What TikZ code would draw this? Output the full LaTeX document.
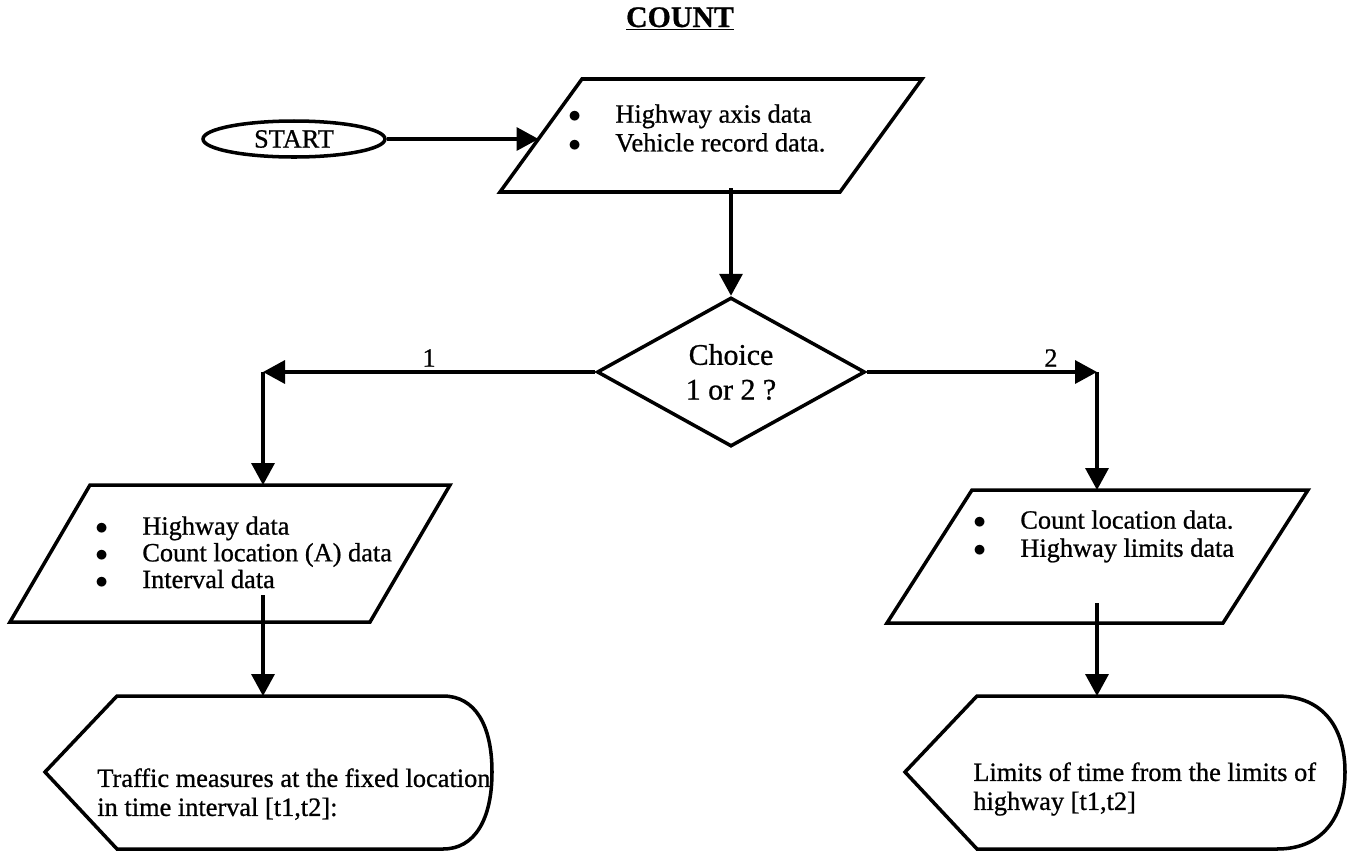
\documentclass[tikz,border=0pt]{standalone}
\usepackage{fontspec}
\setmainfont{Liberation Serif}[FakeBold=0.8]
\usetikzlibrary{arrows.meta,calc,positioning,shapes.geometric}
\newcommand{\linew}{2pt}
\newcommand{\bulletgap}{0.94cm}
\newcommand{\bitem}[1]{\makebox[\bulletgap][l]{$\bullet$}#1}
\tikzset{
  >={Triangle[length=0.44cm,width=0.46cm]},
  font=\fontsize{15}{16}\selectfont,
  outline/.style={draw,line width=\linew,line join=miter},
  term/.style={draw,shape=ellipse,line width=\linew,minimum width=3.64cm,minimum height=0.72cm,inner sep=0},
  decision/.style={draw,shape=diamond,line width=\linew,minimum width=5.36cm,minimum height=2.98cm,inner sep=0,aspect=1.8,align=center,font=\fontsize{17}{19.8}\selectfont},
  txt/.style={anchor=north west,inner sep=0,align=left},
  line/.style={draw,->,line width=\linew},
  branch/.style={above=2pt,inner sep=0},
}
\begin{document}
\begin{tikzpicture}
  \useasboundingbox (0,0) rectangle (26.98,-17.08);
  \node (title) [anchor=base,font=\fontsize{17}{19}\selectfont\bfseries] at (13.6,-0.54) {\underline{COUNT}};
  \node (start) [term] at (5.88,-2.78) {START};
  \draw [outline] (10,-3.84) -- (16.8,-3.84) -- (18.44,-1.58) -- (11.64,-1.58) -- cycle;
  \node (in0) [txt,font=\fontsize{15}{16.4}\selectfont] at (11.36,-2.08) {\bitem{Highway axis data}\\\bitem{Vehicle record data.}};
  \node (choice) [decision] at (14.62,-7.44) {Choice\\1 or 2 ?};
  \draw [outline] (0.2,-12.44) -- (7.4,-12.44) -- (9,-9.7) -- (1.8,-9.7) -- cycle;
  \node (in1) [txt,font=\fontsize{15}{15.2}\selectfont] at (1.9,-10.32) {\bitem{Highway data}\\\bitem{Count location (A) data}\\\bitem{Interval data}};
  \draw [outline] (17.74,-12.46) -- (24.46,-12.46) -- (26.16,-9.8) -- (19.44,-9.8) -- cycle;
  \node (in2) [txt] at (19.46,-10.2) {\bitem{Count location data.}\\\bitem{Highway limits data}};
  \draw [outline] (0.9,-15.44) -- (2.34,-13.92) -- (8.86,-13.92) .. controls (9.5,-13.92) and (9.84,-14.5) .. (9.84,-15.44) .. controls (9.84,-16.38) and (9.5,-16.98) .. (8.86,-16.98) -- (2.34,-16.98) -- cycle;
  \node (out1) [txt,font=\fontsize{15}{16.5}\selectfont] at (1.94,-15.36) {Traffic measures at the fixed location\\in time interval [t1,t2]:};
  \draw [outline] (18.1,-15.44) -- (19.54,-13.92) -- (25.54,-13.92) .. controls (26.5,-13.92) and (26.9,-14.6) .. (26.9,-15.44) .. controls (26.9,-16.28) and (26.5,-16.98) .. (25.54,-16.98) -- (19.54,-16.98) -- cycle;
  \node (out2) [txt,font=\fontsize{15}{16.5}\selectfont] at (19.46,-15.24) {Limits of time from the limits of\\highway [t1,t2]};
  \coordinate (in0w) at ($(10,-3.84)!0.47!(11.64,-1.58)$);
  \coordinate (in0s) at (choice.north |- 0,-3.76);
  \coordinate (in1n) at (5.26,-9.7);
  \coordinate (in2n) at (21.94,-9.8);
  \coordinate (c1) at (choice.west -| in1n);
  \coordinate (c2) at (choice.east -| in2n);
  \coordinate (in1s) at (5.26,-11.9);
  \coordinate (in2s) at (21.94,-12.06);
  \coordinate (out1n) at (5.26,-13.92);
  \coordinate (out2n) at (21.94,-13.92);
  \path [line] (start) -- (start -| in0w);
  \path [line] (in0s) -- (choice.north);
  \path [line] (choice.west) -- node[branch]{1} (c1);
  \path [line] (c1) -- (in1n);
  \path [line] (choice.east) -- node[branch,pos=0.8]{2} (c2);
  \path [line] (c2) -- (in2n);
  \path [line] (in1s) -- (out1n);
  \path [line] (in2s) -- (out2n);
\end{tikzpicture}
\end{document}
